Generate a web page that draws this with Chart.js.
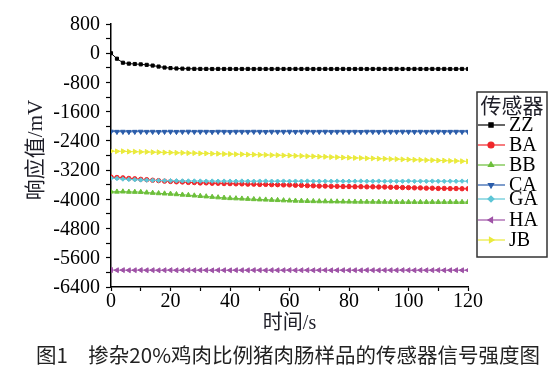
<!DOCTYPE html>
<html>
<head>
<meta charset="utf-8">
<script src="https://cdn.jsdelivr.net/npm/chart.js@4/dist/chart.umd.min.js"></script>
<style>
  body { margin: 0; background: #fff; }
</style>
</head>
<body>
<canvas id="sensorChart" width="560" height="376"></canvas>
<script>
// time in seconds
const TIME = [
  0, 2, 4, 6, 8, 10, 12, 14, 16, 18,
  20, 22, 24, 26, 28, 30, 32, 34, 36, 38,
  40, 42, 44, 46, 48, 50, 52, 54, 56, 58,
  60, 62, 64, 66, 68, 70, 72, 74, 76, 78,
  80, 82, 84, 86, 88, 90, 92, 94, 96, 98,
  100, 102, 104, 106, 108, 110, 112, 114, 116, 118,
  120
];

const ZZ = [
  0, -150, -260, -285, -295, -305, -318, -338, -365, -392,
  -408, -418, -422, -425, -428, -430, -430, -432, -430, -431,
  -430, -432, -431, -430, -432, -430, -431, -432, -430, -431,
  -432, -430, -431, -430, -432, -431, -430, -432, -431, -430,
  -432, -431, -430, -432, -431, -430, -431, -432, -430, -431,
  -432, -430, -431, -432, -430, -431, -430, -432, -431, -430,
  -431
];

const BA = [
  -3390, -3402, -3412, -3428, -3438, -3452, -3462, -3477, -3488, -3502,
  -3510, -3520, -3524, -3537, -3541, -3551, -3550, -3560, -3561, -3568,
  -3570, -3576, -3577, -3584, -3585, -3592, -3591, -3598, -3599, -3605,
  -3605, -3614, -3617, -3626, -3629, -3637, -3637, -3644, -3644, -3650,
  -3650, -3654, -3653, -3658, -3657, -3662, -3663, -3670, -3671, -3678,
  -3680, -3686, -3687, -3694, -3695, -3702, -3701, -3706, -3705, -3710,
  -3710
];

const BB = [
  -3790, -3792, -3788, -3795, -3798, -3800, -3815, -3825, -3835, -3843,
  -3850, -3862, -3875, -3885, -3898, -3910, -3922, -3935, -3948, -3960,
  -3970, -3976, -3983, -3990, -3998, -4005, -4010, -4017, -4023, -4030,
  -4035, -4040, -4044, -4048, -4052, -4055, -4057, -4059, -4061, -4063,
  -4065, -4066, -4067, -4068, -4069, -4070, -4071, -4072, -4073, -4074,
  -4075, -4074, -4076, -4075, -4074, -4076, -4075, -4074, -4076, -4075,
  -4075
];

const CA = [
  -2145, -2150, -2148, -2152, -2150, -2147, -2151, -2149, -2153, -2150,
  -2148, -2152, -2150, -2147, -2151, -2149, -2150, -2153, -2148, -2150,
  -2152, -2149, -2150, -2151, -2148, -2150, -2153, -2149, -2151, -2150,
  -2148, -2152, -2150, -2149, -2151, -2150, -2148, -2152, -2150, -2149,
  -2151, -2150, -2153, -2148, -2150, -2152, -2149, -2150, -2151, -2148,
  -2150, -2152, -2149, -2151, -2150, -2148, -2152, -2150, -2149, -2151,
  -2150
];

const GA = [
  -3420, -3430, -3445, -3455, -3462, -3470, -3475, -3480, -3485, -3488,
  -3490, -3492, -3495, -3497, -3498, -3500, -3502, -3500, -3503, -3501,
  -3502, -3504, -3500, -3503, -3505, -3502, -3500, -3504, -3503, -3501,
  -3505, -3502, -3504, -3500, -3503, -3505, -3502, -3504, -3501, -3503,
  -3505, -3502, -3500, -3504, -3503, -3501, -3505, -3502, -3504, -3503,
  -3500, -3505, -3502, -3504, -3501, -3503, -3505, -3502, -3504, -3501,
  -3503
];

const HA = [
  -5935, -5940, -5938, -5942, -5940, -5937, -5941, -5939, -5943, -5940,
  -5938, -5942, -5940, -5937, -5941, -5939, -5940, -5943, -5938, -5940,
  -5942, -5939, -5940, -5941, -5938, -5940, -5943, -5939, -5941, -5940,
  -5938, -5942, -5940, -5939, -5941, -5940, -5938, -5942, -5940, -5939,
  -5941, -5940, -5943, -5938, -5940, -5942, -5939, -5940, -5941, -5938,
  -5940, -5942, -5939, -5941, -5940, -5938, -5942, -5940, -5939, -5941,
  -5940
];

const JB = [
  -2680, -2686, -2683, -2694, -2695, -2702, -2701, -2710, -2711, -2718,
  -2720, -2726, -2727, -2734, -2735, -2742, -2743, -2750, -2751, -2758,
  -2760, -2766, -2767, -2774, -2775, -2782, -2783, -2790, -2791, -2798,
  -2800, -2808, -2811, -2820, -2823, -2832, -2835, -2844, -2847, -2856,
  -2860, -2867, -2869, -2877, -2879, -2887, -2889, -2897, -2899, -2907,
  -2910, -2917, -2919, -2927, -2929, -2937, -2939, -2947, -2949, -2957,
  -2960
];

const SERIES_NAMES = ['ZZ', 'BA', 'BB', 'CA', 'GA', 'HA', 'JB'];
const SERIES_VALUES = [ZZ, BA, BB, CA, GA, HA, JB];
const COLORS = ['#000000', '#f0262a', '#6cbf3a', '#2a5caa', '#5ec6d6', '#9e52a6', '#eaea3c'];
const POINT_STYLES = ['rect', 'circle', 'triangle', 'triangle', 'rectRot', 'triangle', 'triangle'];
const POINT_ROTATION = [0, 0, 0, 180, 0, 270, 90];

const LEGEND_TITLE = '传感器';
const X_TITLE = '时间/s';
const Y_TITLE = '响应值/mV';
const CAPTION = '图1　掺杂20%鸡肉比例猪肉肠样品的传感器信号强度图';

const TEXT = '#1e1e28';
const LATIN = "'Times New Roman', 'Liberation Serif', serif";
const SERIF = "'Times New Roman', 'Liberation Serif', 'Noto Sans CJK SC', serif";

Chart.defaults.font.family = LATIN;

const datasets = SERIES_NAMES.map((name, i) => ({
    label: name,
    data: TIME.map((t, j) => ({ x: t, y: SERIES_VALUES[i][j] })),
    borderColor: COLORS[i],
    backgroundColor: COLORS[i],
    pointBackgroundColor: COLORS[i],
    pointBorderColor: COLORS[i],
    pointStyle: POINT_STYLES[i],
    rotation: POINT_ROTATION[i],
    pointRadius: POINT_STYLES[i] === 'triangle' ? 2.8 : 2.2,
    pointBorderWidth: 1,
    borderWidth: 1,
    tension: 0,
    order: SERIES_NAMES.length - i,
}));

// tick labels, axis titles, caption and the boxed legend
const annotations = {
    id: 'annotations',
    afterDraw(chart) {
        const c = chart.ctx;
        const area = chart.chartArea;
        const xs = chart.scales.x;
        const ys = chart.scales.y;
        c.save();
        c.fillStyle = '#000';
        c.font = '20px ' + LATIN;

        // tick labels, placed with the scales
        c.textAlign = 'right';
        c.textBaseline = 'middle';
        ys.ticks.forEach((t) => {
            if (t.value % 800 === 0) c.fillText(String(t.value), area.left - 11, ys.getPixelForValue(t.value) + 1);
        });
        c.textAlign = 'center';
        xs.ticks.forEach((t) => {
            if (t.value % 20 === 0) c.fillText(String(t.value), xs.getPixelForValue(t.value), area.bottom + 15);
        });

        // axis titles
        c.fillStyle = TEXT;
        c.font = '20px ' + SERIF;
        c.fillText(X_TITLE, (area.left + area.right) / 2, 324);
        c.save();
        c.translate(36, 150);
        c.rotate(-Math.PI / 2);
        c.font = '21px ' + SERIF;
        c.fillText(Y_TITLE, 0, 0);
        c.restore();

        // caption
        c.fillStyle = '#222';
        c.font = "20.5px 'Noto Sans CJK SC', sans-serif";
        c.fillText(CAPTION, 288, 355);

        // legend
        c.strokeStyle = '#333';
        c.lineWidth = 1.5;
        c.strokeRect(477, 92, 70, 165);
        c.fillStyle = TEXT;
        c.font = '21px ' + SERIF;
        c.fillText(LEGEND_TITLE, 512, 107);
        const rows = [125, 145, 165, 185, 199, 220, 240];
        chart.data.datasets.forEach((ds, i) => {
            const y = rows[i];
            c.strokeStyle = ds.borderColor;
            c.lineWidth = 1.2;
            c.beginPath();
            c.moveTo(478, y);
            c.lineTo(505, y);
            c.stroke();
            c.fillStyle = ds.borderColor;
            if (Chart.helpers && Chart.helpers.drawPoint) {
                Chart.helpers.drawPoint(c, {
                    pointStyle: ds.pointStyle, radius: 3, rotation: ds.rotation, borderWidth: 1
                }, 491, y);
            }
            c.fillStyle = '#000';
            c.font = '20px ' + LATIN;
            c.textAlign = 'left';
            c.fillText(ds.label, 509, y + 1);
            c.textAlign = 'center';
        });
        c.restore();
    }
};

new Chart(document.getElementById('sensorChart'), {
    type: 'line',
    data: { datasets },
    plugins: [annotations],
    options: {
        responsive: false,
        animation: false,
        devicePixelRatio: 1,
        layout: { padding: { top: 24, right: 92, left: 0, bottom: 0 } },
        plugins: {
            legend: { display: false },
            tooltip: { enabled: false },
        },
        scales: {
            x: {
                type: 'linear',
                min: 0,
                max: 120,
                ticks: {
                    stepSize: 10,
                    autoSkip: false,
                    maxRotation: 0,
                    minRotation: 0,
                    padding: 0,
                    color: 'rgba(0,0,0,0)',
                    font: { size: 20 },
                    callback: (v) => (v % 20 === 0 ? String(v) : ''),
                },
                grid: { drawOnChartArea: false, tickLength: 4, tickColor: '#000', tickWidth: 1.2 },
                border: { color: '#000', width: 1.5 },
                afterFit: (scale) => { scale.height = 89; },
            },
            y: {
                min: -6400,
                max: 800,
                ticks: {
                    stepSize: 400,
                    autoSkip: false,
                    padding: 6,
                    color: 'rgba(0,0,0,0)',
                    font: { size: 20 },
                    callback: (v) => (v % 800 === 0 ? String(v) : ''),
                },
                grid: { drawOnChartArea: false, tickLength: 5, tickColor: '#000', tickWidth: 1.2 },
                border: { color: '#000', width: 1.5 },
                afterFit: (scale) => { scale.width = 111; },
            },
        },
    },
});
</script>
</body>
</html>
